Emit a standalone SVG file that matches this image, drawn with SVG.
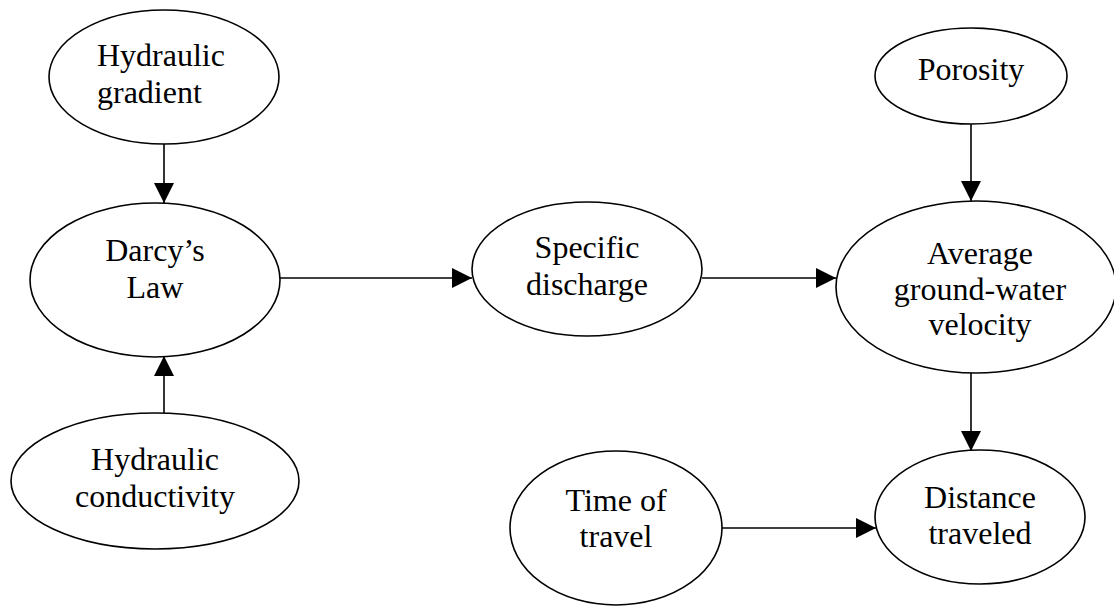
<svg xmlns="http://www.w3.org/2000/svg" width="1114" height="609" viewBox="0 0 1114 609">
<style>
.n ellipse{fill:#fff;stroke:#000;stroke-width:1.6}
.n text{font-family:"Liberation Serif","Times New Roman",serif;font-size:32px;fill:#000;text-anchor:middle}
.c line{stroke:#000;stroke-width:1.6;fill:none;marker-end:url(#ah)}
</style>
<defs>
<marker id="ah" markerUnits="userSpaceOnUse" markerWidth="20" markerHeight="20" refX="20" refY="10" orient="auto" viewBox="0 0 20 20">
<path d="M0,0 L20,10 L0,20 z" fill="#000"/>
</marker>
</defs>
<rect width="1114" height="609" fill="#fff"/>
<g class="c" id="connectors">
<line x1="164" y1="144" x2="164" y2="203"/>
<line x1="164" y1="413" x2="164" y2="356"/>
<line x1="280" y1="278" x2="472" y2="278"/>
<line x1="702" y1="278" x2="836" y2="278"/>
<line x1="971" y1="124" x2="971" y2="201"/>
<line x1="971" y1="373" x2="971" y2="451"/>
<line x1="722" y1="528" x2="876" y2="528"/>
</g>
<g class="n" id="hydraulic-gradient">
<ellipse cx="164" cy="77" rx="115" ry="67"/>
<text x="97" y="66" style="text-anchor:start">Hydraulic</text>
<text x="97" y="103" style="text-anchor:start">gradient</text>
</g>
<g class="n" id="darcys-law">
<ellipse cx="155" cy="280" rx="125" ry="77"/>
<text x="155" y="261">Darcy’s</text>
<text x="155" y="298">Law</text>
</g>
<g class="n" id="hydraulic-conductivity">
<ellipse cx="155" cy="481" rx="144" ry="68"/>
<text x="155" y="470">Hydraulic</text>
<text x="155" y="507">conductivity</text>
</g>
<g class="n" id="specific-discharge">
<ellipse cx="587" cy="269" rx="115" ry="67"/>
<text x="587" y="258">Specific</text>
<text x="587" y="295">discharge</text>
</g>
<g class="n" id="porosity">
<ellipse cx="971" cy="76" rx="96" ry="48"/>
<text x="971" y="80">Porosity</text>
</g>
<g class="n" id="average-velocity">
<ellipse cx="976" cy="287" rx="140" ry="86"/>
<text x="980" y="264">Average</text>
<text x="980" y="300">ground-water</text>
<text x="980" y="335">velocity</text>
</g>
<g class="n" id="time-of-travel">
<ellipse cx="616" cy="528" rx="106" ry="77"/>
<text x="616" y="511">Time of</text>
<text x="616" y="547">travel</text>
</g>
<g class="n" id="distance-traveled">
<ellipse cx="980" cy="517" rx="105" ry="67"/>
<text x="980" y="508">Distance</text>
<text x="980" y="544">traveled</text>
</g>
</svg>
